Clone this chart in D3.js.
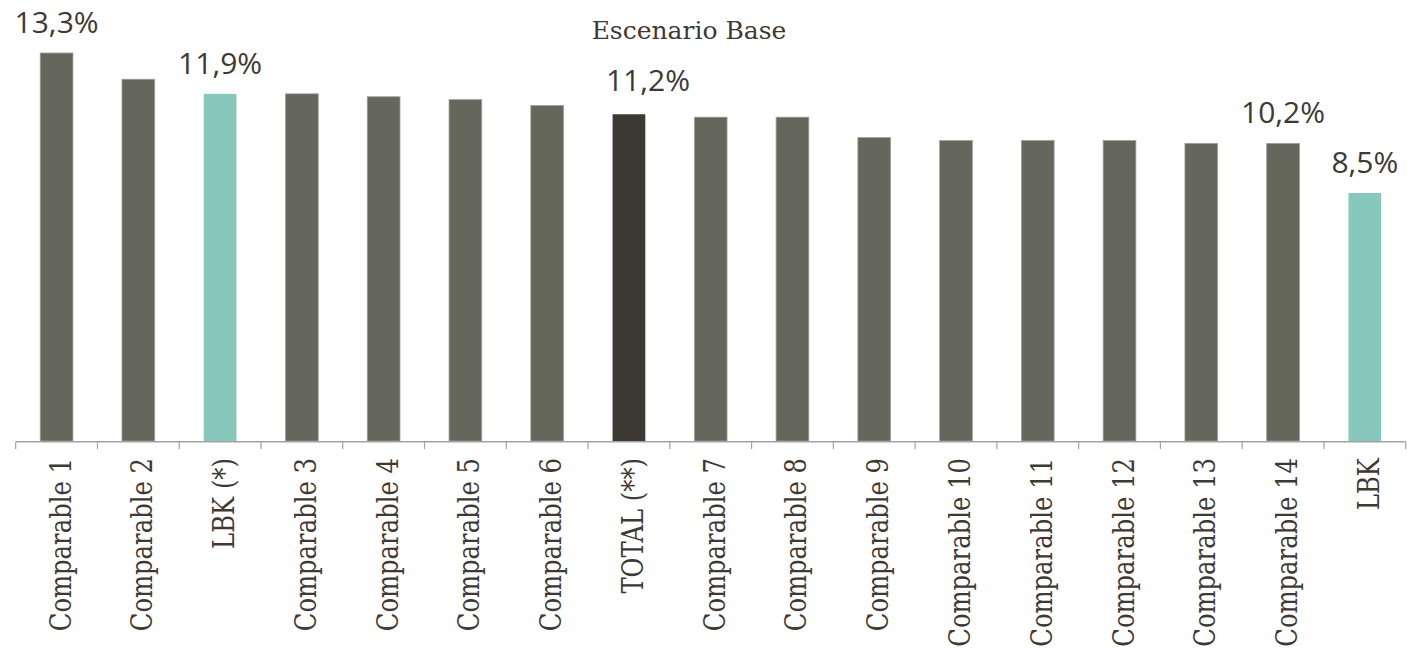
<!DOCTYPE html>
<html>
  <head>
    <title>Escenario Base</title>
    <script type="text/javascript" src="https://cdnjs.cloudflare.com/ajax/libs/d3/7.8.5/d3.min.js"></script>
    <style>
      body { margin: 0; background: #fff; }
    </style>
  </head>
  <body>
  <script>

    var categories = ['Comparable 1', 'Comparable 2', 'LBK (*)', 'Comparable 3', 'Comparable 4',
      'Comparable 5', 'Comparable 6', 'TOTAL (**)', 'Comparable 7', 'Comparable 8', 'Comparable 9',
      'Comparable 10', 'Comparable 11', 'Comparable 12', 'Comparable 13', 'Comparable 14', 'LBK'];
    var values = [13.3, 12.4, 11.9, 11.9, 11.8, 11.7, 11.5, 11.2, 11.1, 11.1, 10.4,
      10.3, 10.3, 10.3, 10.2, 10.2, 8.5];
    // which bars get a value label on top
    var labelled = ['Comparable 1', 'LBK (*)', 'TOTAL (**)', 'Comparable 14', 'LBK'];
    var kinds = ['comp', 'comp', 'lbk', 'comp', 'comp', 'comp', 'comp', 'total', 'comp', 'comp', 'comp',
      'comp', 'comp', 'comp', 'comp', 'comp', 'lbk'];
    var title = 'Escenario Base';

    var colors = { comp: '#66675c', lbk: '#86c8bb', total: '#3c3833' };
    var textColor = '#3d3a35';

    var svg = d3.select('body')
              .append('svg')
              .attr('width', 1407)
              .attr('height', 649);

    var x = d3.scaleBand()
      .domain(categories)
      .range([15.7, 1405.7])
      .paddingInner(0.6)
      .paddingOuter(0.3);

    var y = d3.scaleLinear()
      .domain([0, 13.3])
      .range([441, 53]);

    var fmt = function(v) { return d3.format('.1f')(v).replace('.', ',') + '%'; };

    var data = categories.map(function(c, i) {
      return { cat: c, value: values[i], kind: kinds[i] };
    });

    // bars
    svg.selectAll('rect.bar')
      .data(data)
      .enter()
      .append('rect')
      .attr('class', 'bar')
      .attr('x', function(d) { return x(d.cat); })
      .attr('y', function(d) { return y(d.value); })
      .attr('width', x.bandwidth())
      .attr('height', function(d) { return y(0) - y(d.value); })
      .attr('fill', function(d) { return colors[d.kind]; })
      .attr('stroke', function(d) { return d.kind == 'comp' ? '#9c9d95' : 'none'; })
      .attr('stroke-width', 0.8);

    // axis line + ticks at the band edges
    var step = x.step();
    var edges = categories.map(function(c) { return x(c) - step * 0.3; });
    edges.push(x.range()[1]);

    svg.append('line')
      .attr('x1', x.range()[0]).attr('x2', x.range()[1])
      .attr('y1', y(0) + 0.8).attr('y2', y(0) + 0.8)
      .attr('stroke', '#a3a3a3')
      .attr('stroke-width', 1.4);

    svg.selectAll('line.tick')
      .data(edges)
      .enter()
      .append('line')
      .attr('class', 'tick')
      .attr('x1', function(d) { return d; })
      .attr('x2', function(d) { return d; })
      .attr('y1', y(0) + 0.8)
      .attr('y2', y(0) + 8)
      .attr('stroke', '#a3a3a3')
      .attr('stroke-width', 1.2);

    // category labels, rotated
    svg.selectAll('text.cat')
      .data(data)
      .enter()
      .append('text')
      .attr('class', 'cat')
      .attr('transform', function(d) {
        var cx = x(d.cat) + x.bandwidth() / 2;
        return 'translate(' + (cx + 14) + ',458) rotate(-90) scale(0.81,1)';
      })
      .attr('text-anchor', 'end')
      .attr('font-family', 'DejaVu Serif, serif')
      .attr('font-size', 30)
      .attr('fill', textColor)
      .text(function(d) { return d.cat; });

    // value labels (the TOTAL one sits a little right of its bar)
    svg.selectAll('text.val')
      .data(data.filter(function(d) { return labelled.indexOf(d.cat) >= 0; }))
      .enter()
      .append('text')
      .attr('class', 'val')
      .attr('x', function(d) { return x(d.cat) + x.bandwidth() / 2 + (d.kind == 'total' ? 19 : 0); })
      .attr('y', function(d) { return y(d.value) - (d.kind == 'total' ? 23 : 20); })
      .attr('text-anchor', 'middle')
      .attr('font-family', 'Open Sans')
      .attr('font-size', 30)
      .attr('fill', textColor)
      .text(function(d) { return fmt(d.value); });

    svg.append('text')
      .attr('x', 689)
      .attr('y', 39)
      .attr('text-anchor', 'middle')
      .attr('font-family', 'DejaVu Serif, serif')
      .attr('font-size', 25)
      .attr('fill', textColor)
      .text(title);

  </script>
 </body>
</html>
